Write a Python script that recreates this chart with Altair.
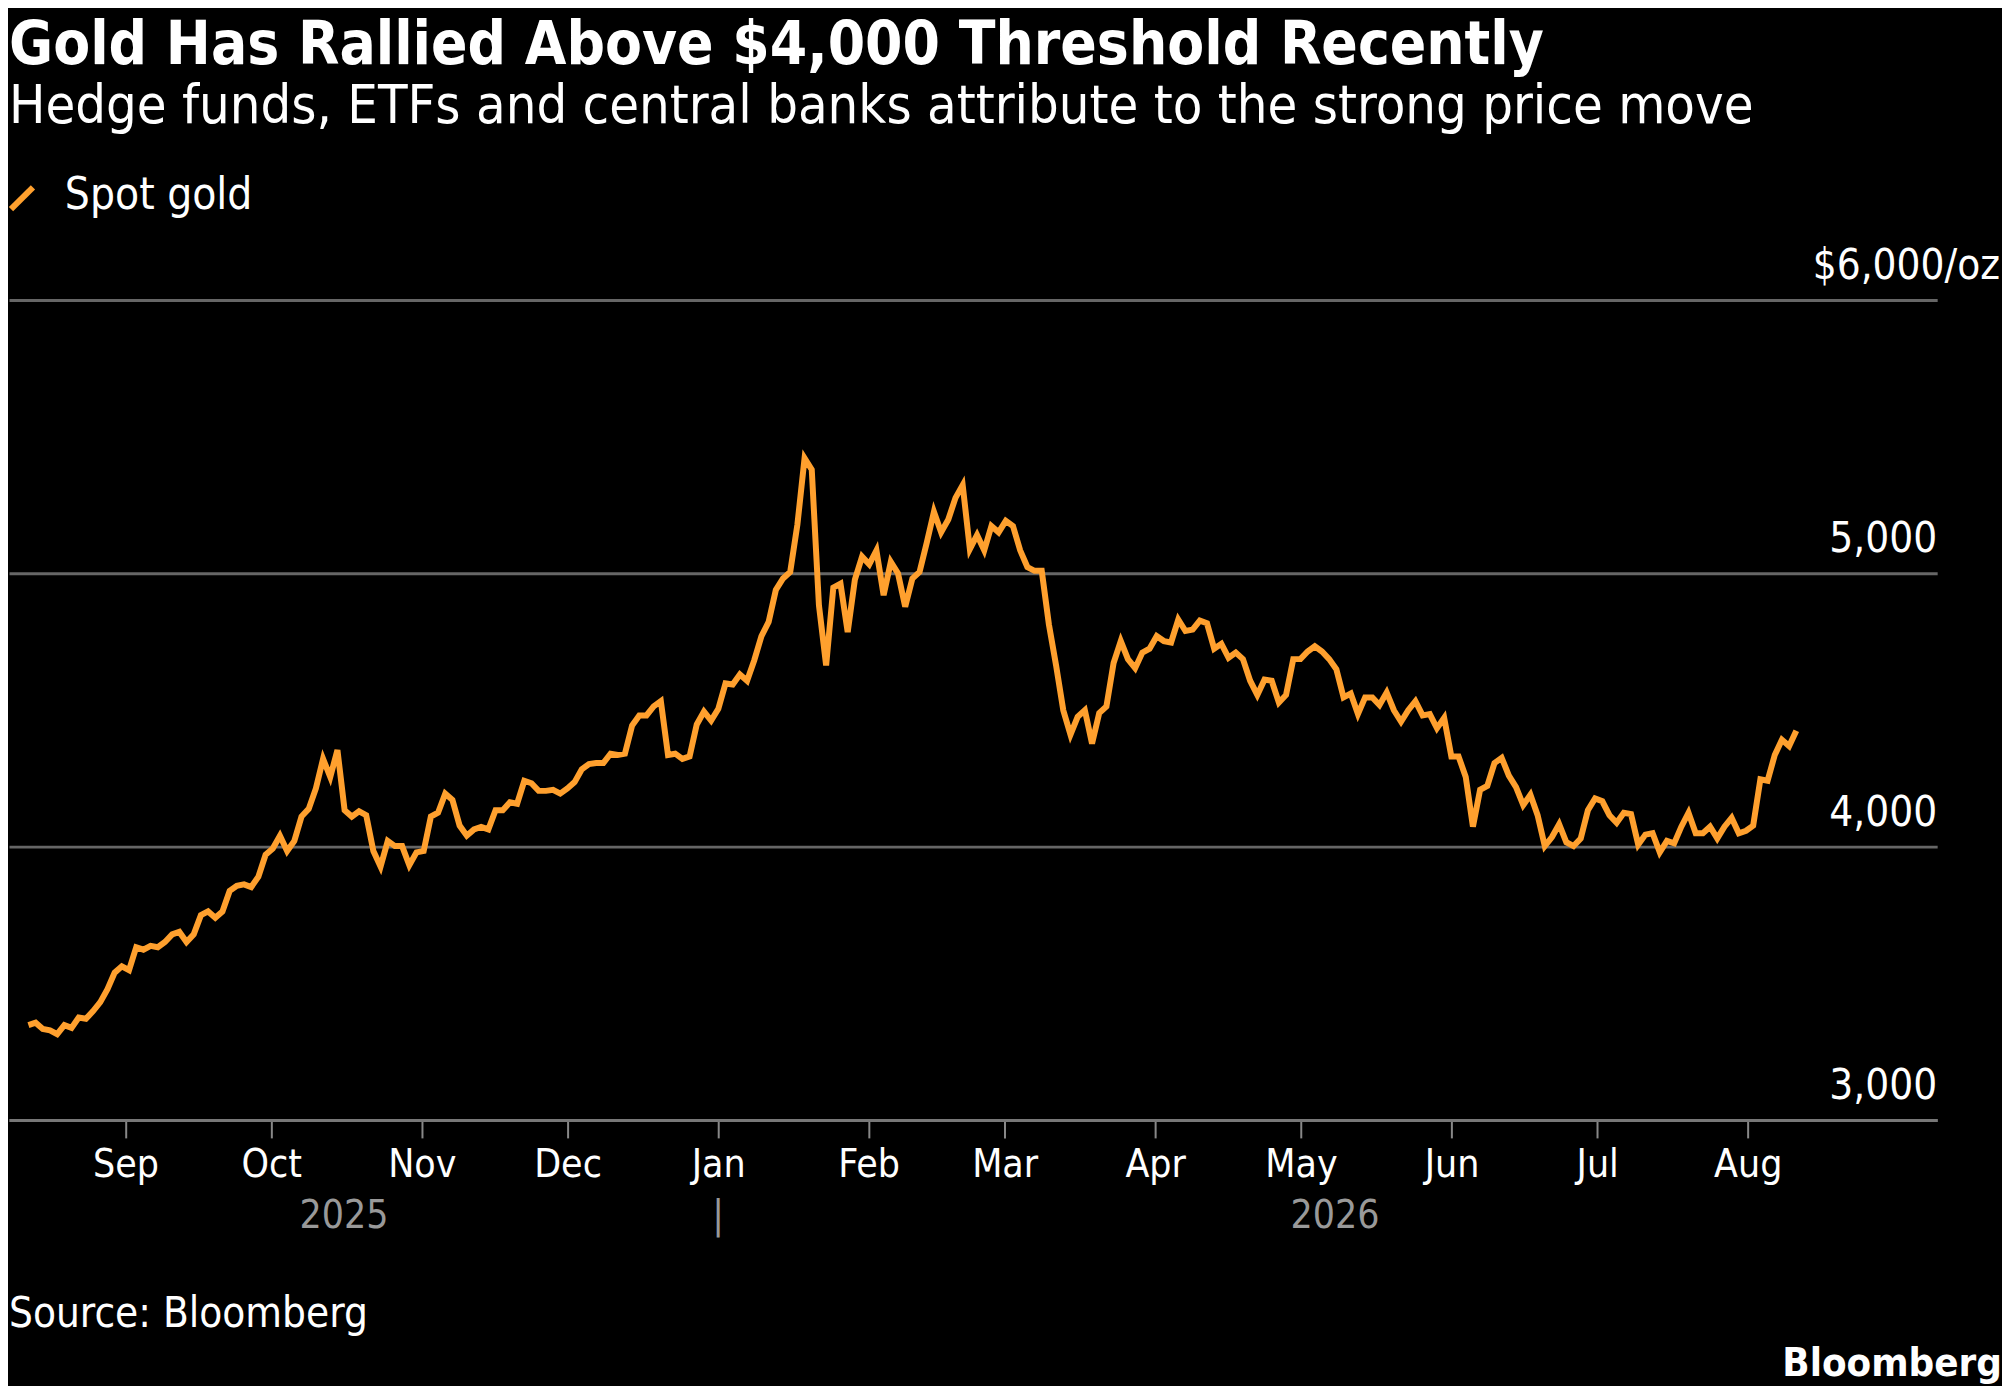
import altair as alt
import pandas as pd

# Spot gold, USD/oz (roughly one point per trading day)
values = [
    3347, 3356, 3333, 3328, 3314, 3347, 3337, 3375, 3370, 3398, 3431, 3478, 3539, 3562, 3548,
    3632, 3623, 3637, 3632, 3651, 3679, 3688, 3651, 3679, 3749, 3763, 3740, 3763, 3838, 3857,
    3862, 3852, 3890, 3970, 3993, 4040, 3984, 4021, 4110, 4138, 4213, 4321, 4255, 4353, 4133,
    4110, 4129, 4115, 3984, 3927, 4021, 4002, 4002, 3932, 3979, 3984, 4110, 4124, 4194, 4171,
    4077, 4040, 4063, 4072, 4063, 4133, 4133, 4162, 4157, 4241, 4232, 4204, 4204, 4208, 4194,
    4213, 4236, 4283, 4302, 4306, 4306, 4340, 4335, 4340, 4443, 4480, 4480, 4513, 4532, 4335,
    4340, 4321, 4330, 4447, 4494, 4461, 4504, 4597, 4593, 4630, 4607, 4682, 4770, 4822, 4939,
    4981, 5005, 5178, 5421, 5379, 4883, 4663, 4948, 4962, 4785, 4977, 5061, 5033, 5084, 4920,
    5042, 5000, 4878, 4981, 5005, 5112, 5225, 5150, 5197, 5276, 5323, 5089, 5140, 5084, 5173,
    5150, 5192, 5173, 5084, 5023, 5009, 5009, 4813, 4663, 4499, 4410, 4475, 4499, 4377, 4489,
    4513, 4672, 4752, 4686, 4653, 4710, 4724, 4770, 4752, 4747, 4831, 4789, 4794, 4827, 4817,
    4724, 4742, 4691, 4710, 4686, 4607, 4555, 4611, 4607, 4527, 4555, 4686, 4686, 4714, 4733,
    4714, 4686, 4649, 4546, 4560, 4485, 4546, 4546, 4518, 4564, 4499, 4457, 4499, 4532, 4480,
    4485, 4433, 4471, 4330, 4330, 4255, 4073, 4208, 4222, 4306, 4325, 4260, 4218, 4152, 4190,
    4115, 4002, 4035, 4082, 4016, 4002, 4030, 4133, 4176, 4166, 4115, 4087, 4124, 4119, 4007,
    4044, 4049, 3979, 4021, 4012, 4073, 4124, 4049, 4049, 4073, 4030, 4073, 4105, 4049, 4058,
    4077, 4246, 4241, 4335, 4391, 4368, 4424,
]
dates = pd.date_range("2025-08-12", "2026-08-11", periods=len(values))
month_ticks = pd.date_range("2025-09-01", "2026-08-01", freq="MS")
grid_levels = [4000, 5000]
years = ["2025", "2026"]
year_pos = ["2025-10-16", "2026-05-08"]

W, H = 1933, 822
GOLD = "#FFA02E"
FONT = "DejaVu Sans Condensed"

df = pd.DataFrame({"date": dates, "price": values})
xs = alt.Scale(domain=["2025-08-08", "2026-09-09"])
ys = alt.Scale(domain=[3000, 6000], nice=False)

line = alt.Chart(df).mark_line(color=GOLD, strokeWidth=6).encode(
    x=alt.X("date:T", scale=xs, title=None,
            axis=alt.Axis(values=list(month_ticks), format="%b", labelFontSize=39,
                          labelFont=FONT, labelColor="white", tickSize=18, tickWidth=2,
                          tickColor="#888", domainColor="#777", domainWidth=3,
                          labelPadding=8, grid=False)),
    y=alt.Y("price:Q", scale=ys, title=None,
            axis=alt.Axis(values=[3000, 4000, 5000, 6000], labels=False, ticks=False,
                          domain=False, grid=True, gridColor="#666", gridWidth=3)),
)

ylab = alt.Chart(pd.DataFrame({"v": grid_levels + [3000],
                               "t": ["4,000", "5,000", "3,000"]})).mark_text(
    align="right", baseline="bottom", dy=-12, fontSize=42, font=FONT, color="white"
).encode(x=alt.value(W), y=alt.Y("v:Q", scale=ys), text="t:N")

toplab = alt.Chart(pd.DataFrame({"v": [6000], "t": ["$6,000/oz"]})).mark_text(
    align="right", baseline="bottom", dy=-12, fontSize=42, font=FONT, color="white"
).encode(x=alt.value(1996), y=alt.Y("v:Q", scale=ys), text="t:N")

yearlab = alt.Chart(pd.DataFrame({"d": year_pos, "t": years})).mark_text(
    baseline="middle", fontSize=39, font=FONT, color="#999"
).encode(x=alt.X("d:T", scale=xs), y=alt.value(H + 96), text="t:N")

sep = alt.Chart(pd.DataFrame({"d": ["2026-01-01"], "t": ["|"]})).mark_text(
    baseline="middle", fontSize=39, font=FONT, color="#999"
).encode(x=alt.X("d:T", scale=xs), y=alt.value(H + 96), text="t:N")


def label(txt, x, y, size, weight="normal", align="left", color="white"):
    return alt.Chart(pd.DataFrame({"t": [txt]})).mark_text(
        align=align, baseline="middle", fontSize=size, fontWeight=weight,
        font=FONT, color=color
    ).encode(x=alt.value(x), y=alt.value(y), text="t:N")


title = label("Gold Has Rallied Above $4,000 Threshold Recently", 0, -255, 60, "bold")
subtitle = label("Hedge funds, ETFs and central banks attribute to the strong price move",
                 0, -193, 54)
legend_txt = label("Spot gold", 56, -104, 44)
slash = alt.Chart(pd.DataFrame({"a": [0]})).mark_rule(
    color=GOLD, strokeWidth=6).encode(
    x=alt.value(2), x2=alt.value(24), y=alt.value(-91), y2=alt.value(-113))
source = label("Source: Bloomberg", 0, H + 195, 42)
brand = label("Bloomberg", 1998, H + 245, 40, "bold", align="right")

chart = alt.layer(
    line, ylab, toplab, yearlab, sep, title, subtitle, legend_txt, slash, source, brand
).properties(width=W, height=H, padding={"top": 6, "left": 0, "right": 0, "bottom": 0}
).configure(background="black").configure_view(strokeWidth=0)

chart.save("out.html", embed_options={"renderer": "svg", "actions": False})
